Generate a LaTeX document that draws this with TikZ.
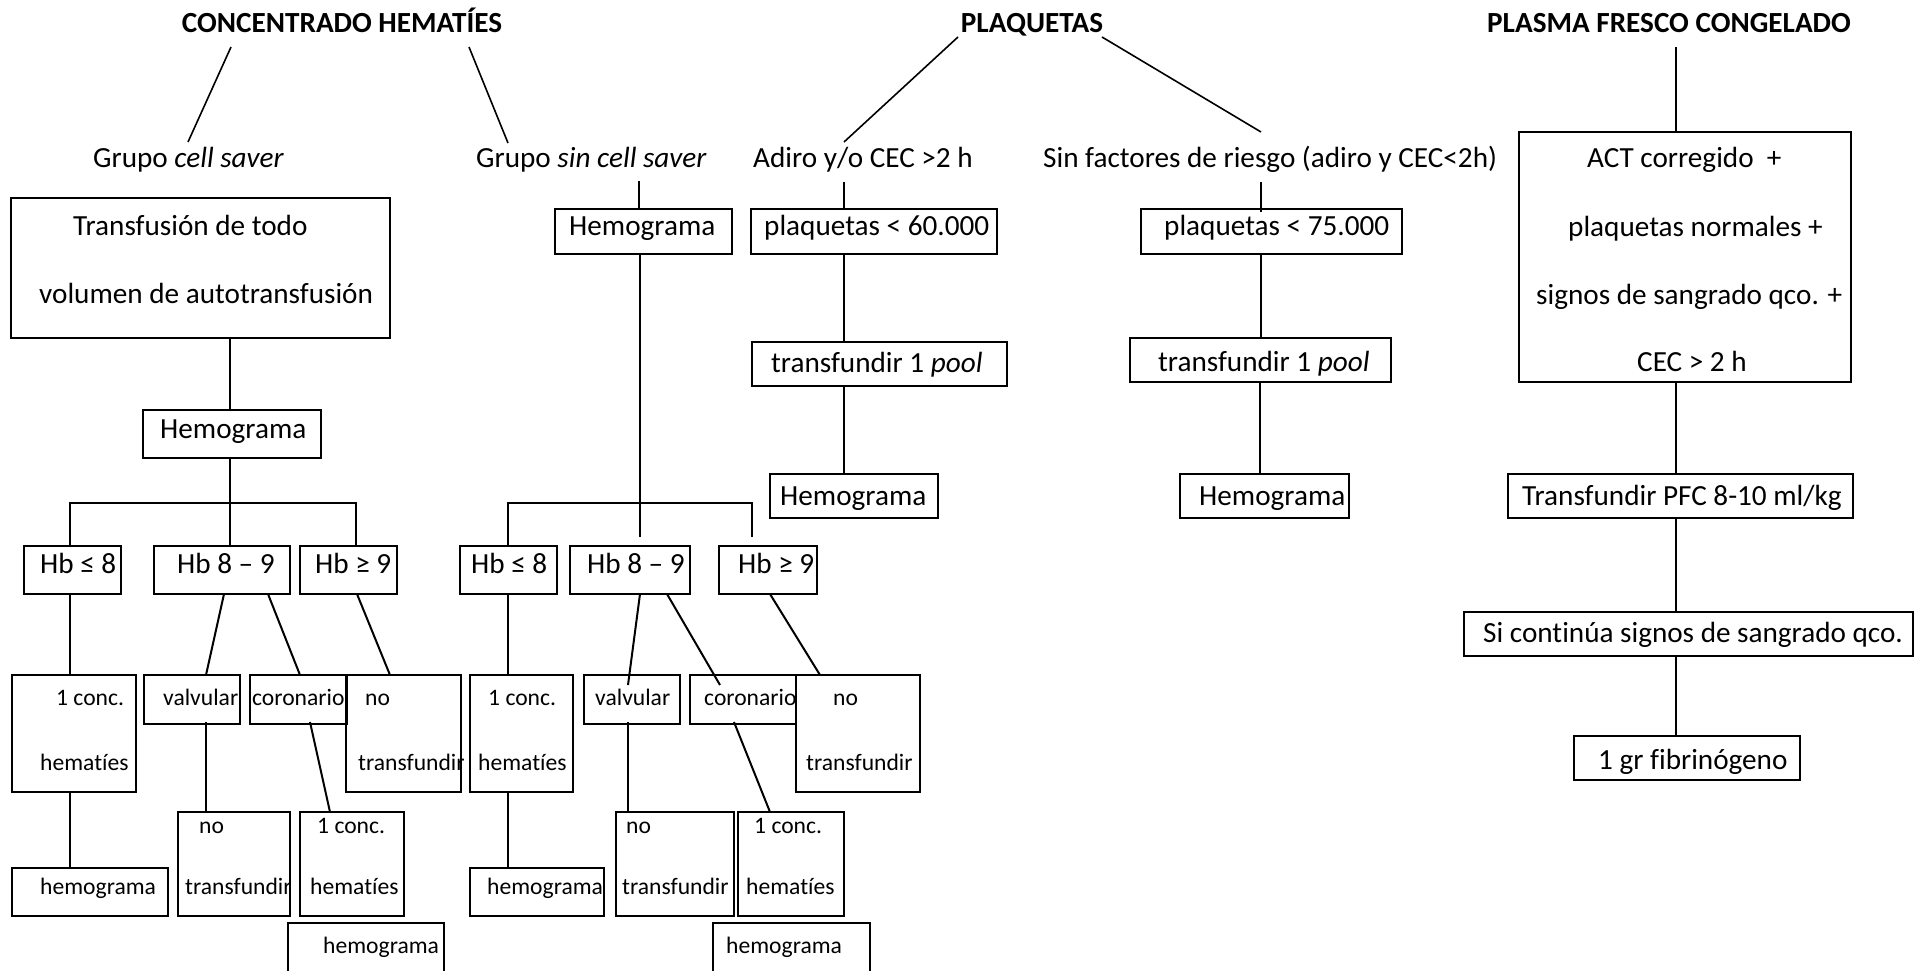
\documentclass[tikz,border=0pt]{standalone}
\usepackage{fontspec}
\setmainfont{Carlito}[Ligatures=CommonOff]
\begin{document}
\begin{tikzpicture}[x=1pt,y=-1pt,
  box/.style={draw,line width=2pt,inner sep=0pt,outer sep=0pt,anchor=north west,rectangle},
  txt/.style={inner sep=0pt,anchor=base west,font=\fontsize{29.2}{35}\selectfont},
  sm/.style={inner sep=0pt,anchor=base west,font=\fontsize{23.6}{28}\selectfont},
  head/.style={inner sep=0pt,anchor=base,font=\fontsize{29.2}{35}\selectfont\bfseries},
  ln/.style={line width=2pt},
  dl/.style={line width=1.6pt}]
\useasboundingbox (0,0) rectangle (1923,970);
% ---------- headings and group labels
\node[head] (hc) at (342,32) {CONCENTRADO HEMATÍES};
\node[head] (hp) at (1032,32) {PLAQUETAS};
\node[head] (hf) at (1669,32) {PLASMA FRESCO CONGELADO};
\node[txt] (gcs) at (93,167) {Grupo \textit{cell saver}};
\node[txt] (gsin) at (476,167) {Grupo \textit{sin cell saver}};
\node[txt] (adiro) at (753,167) {Adiro y/o CEC >2 h};
\node[txt] (sinf) at (1043,167) {Sin factores de riesgo (adiro y CEC<2h)};
% ---------- boxes: cell saver
\node[box,minimum width=379,minimum height=140] (tbox) at (11,198) {};
\node[box,minimum width=178,minimum height=48] (hemL) at (143,410) {};
\node[box,minimum width=97,minimum height=48] (hbL1) at (24,546) {};
\node[box,minimum width=136,minimum height=48] (hbL2) at (154,546) {};
\node[box,minimum width=97,minimum height=48] (hbL3) at (300,546) {};
\node[box,minimum width=124,minimum height=117] (concL1) at (12,675) {};
\node[box,minimum width=96,minimum height=49] (valL) at (144,675) {};
\node[box,minimum width=97,minimum height=49] (corL) at (250,675) {};
\node[box,minimum width=115,minimum height=117] (notL1) at (346,675) {};
\node[box,minimum width=156,minimum height=48] (hemL2) at (12,868) {};
\node[box,minimum width=112,minimum height=104] (notL2) at (178,812) {};
\node[box,minimum width=104,minimum height=104] (concL2) at (300,812) {};
\node[box,minimum width=156,minimum height=60] (hemL3) at (288,923) {};
% ---------- boxes: sin cell saver
\node[box,minimum width=177,minimum height=45] (hemS) at (555,209) {};
\node[box,minimum width=97,minimum height=48] (hbS1) at (460,546) {};
\node[box,minimum width=120,minimum height=48] (hbS2) at (570,546) {};
\node[box,minimum width=98,minimum height=48] (hbS3) at (719,546) {};
\node[box,minimum width=103,minimum height=117] (concS1) at (470,675) {};
\node[box,minimum width=134,minimum height=48] (hemS2) at (470,868) {};
\node[box,minimum width=96,minimum height=49] (valS) at (584,675) {};
\node[box,minimum width=106,minimum height=49] (corS) at (690,675) {};
\node[box,minimum width=124,minimum height=117] (notS1) at (796,675) {};
\node[box,minimum width=118,minimum height=104] (notS2) at (616,812) {};
\node[box,minimum width=106,minimum height=104] (concS2) at (738,812) {};
\node[box,minimum width=157,minimum height=60] (hemS3) at (713,923) {};
% ---------- boxes: plaquetas
\node[box,minimum width=246,minimum height=45] (p60) at (751,209) {};
\node[box,minimum width=255,minimum height=44] (tp1) at (752,342) {};
\node[box,minimum width=168,minimum height=44] (hp1) at (770,474) {};
\node[box,minimum width=261,minimum height=45] (p75) at (1141,209) {};
\node[box,minimum width=261,minimum height=44] (tp2) at (1130,338) {};
\node[box,minimum width=169,minimum height=44] (hp2) at (1180,474) {};
% ---------- boxes: plasma
\node[box,minimum width=332,minimum height=250] (act) at (1519,132) {};
\node[box,minimum width=345,minimum height=44] (pfc) at (1508,474) {};
\node[box,minimum width=449,minimum height=44] (si) at (1464,612) {};
\node[box,minimum width=226,minimum height=44] (fib) at (1574,736) {};
% ---------- texts in boxes (main size)
\node[txt] (tbox1) at (73,235) {Transfusión de todo};
\node[txt] (tbox2) at (39,303) {volumen de autotransfusión};
\node[txt] (hemLt) at (160,438) {Hemograma};
\node[txt] (hbL1t) at (40,573) {Hb ≤ 8};
\node[txt] (hbL2t) at (177,573) {Hb 8 – 9};
\node[txt] (hbL3t) at (315,573) {Hb ≥ 9};
\node[txt] (hemSt) at (569,235) {Hemograma};
\node[txt] (hbS1t) at (471,573) {Hb ≤ 8};
\node[txt] (hbS2t) at (587,573) {Hb 8 – 9};
\node[txt] (hbS3t) at (738,573) {Hb ≥ 9};
\node[txt] (p60t) at (764,235) {plaquetas < 60.000};
\node[txt] (tp1t) at (771,372) {transfundir 1 \textit{pool}};
\node[txt] (hp1t) at (780,505) {Hemograma};
\node[txt] (p75t) at (1164,235) {plaquetas < 75.000};
\node[txt] (tp2t) at (1158,371) {transfundir 1 \textit{pool}};
\node[txt] (hp2t) at (1199,505) {Hemograma};
\node[txt] (act1) at (1587,167) {ACT corregido \ +};
\node[txt] (act2) at (1568,236) {plaquetas normales +};
\node[txt] (act3) at (1536,304) {signos de sangrado qco. +};
\node[txt] (act4) at (1637,371) {CEC > 2 h};
\node[txt] (pfct) at (1522,505) {Transfundir PFC 8-10 ml/kg};
\node[txt] (sit) at (1483,642) {Si continúa signos de sangrado qco.};
\node[txt] (fibt) at (1598,769) {1 gr fibrinógeno};
% ---------- texts in small boxes
\node[sm] (concL1a) at (56,705) {1 conc.};
\node[sm] (concL1b) at (40,770) {hematíes};
\node[sm] (valLt) at (163,705) {valvular};
\node[sm] (corLt) at (252,705) {coronario};
\node[sm] (notL1a) at (365,705) {no};
\node[sm] (notL1b) at (358,770) {transfundir};
\node[sm] (notL2a) at (199,833) {no};
\node[sm] (notL2b) at (185,894) {transfundir};
\node[sm] (concL2a) at (317,833) {1 conc.};
\node[sm] (concL2b) at (310,894) {hematíes};
\node[sm] (hemL2t) at (40,894) {hemograma};
\node[sm] (hemL3t) at (323,953) {hemograma};
\node[sm] (concS1a) at (488,705) {1 conc.};
\node[sm] (concS1b) at (478,770) {hematíes};
\node[sm] (hemS2t) at (487,894) {hemograma};
\node[sm] (valSt) at (595,705) {valvular};
\node[sm] (corSt) at (704,705) {coronario};
\node[sm] (notS1a) at (833,705) {no};
\node[sm] (notS1b) at (806,770) {transfundir};
\node[sm] (notS2a) at (626,833) {no};
\node[sm] (notS2b) at (622,894) {transfundir};
\node[sm] (concS2a) at (754,833) {1 conc.};
\node[sm] (concS2b) at (746,894) {hematíes};
\node[sm] (hemS3t) at (726,953) {hemograma};
% ---------- junction coordinates
\coordinate (jL) at (230,503);
\coordinate (jS) at (640,503);
% ---------- connectors: headings
\draw[dl] ([shift={(-111,15)}]hc.base) -- ([shift={(95,-25)}]gcs.base west);
\draw[dl] ([shift={(127,15)}]hc.base) -- ([shift={(32,-24)}]gsin.base west);
\draw[dl] ([shift={(-74,5)}]hp.base) -- ([shift={(91,-25)}]adiro.base west);
\draw[dl] ([shift={(70,5)}]hp.base) -- ([shift={(218,-35)}]sinf.base west);
\draw[dl] ([shift={(7,15)}]hf.base) -- ([shift={(-9,0)}]act.north);
\draw[dl] ([shift={(163,14)}]gsin.base west) -- ([shift={(-4.5,0)}]hemS.north);
\draw[dl] ([shift={(91,15)}]adiro.base west) -- ([shift={(-30,0)}]p60.north);
\draw[dl] ([shift={(218,15)}]sinf.base west) -- ([shift={(-10.5,3)}]p75.north);
% ---------- connectors: cell saver
\draw[ln] ([shift={(29.5,0)}]tbox.south) -- ([shift={(-2,0)}]hemL.north);
\draw[ln] ([shift={(-2,0)}]hemL.south) -- ([shift={(8,0)}]hbL2.north);
\draw[ln] ([shift={(-2.5,0)}]hbL1.north) |- (jL) -| ([shift={(7.5,0)}]hbL3.north);
\draw[ln] ([shift={(-2.5,0)}]hbL1.south) -- ([shift={(-4,0)}]concL1.north);
\draw[ln] ([shift={(-4,0)}]concL1.south) -- ([shift={(-20,0)}]hemL2.north);
\draw[ln] ([shift={(2,0)}]hbL2.south) -- ([shift={(14,0)}]valL.north);
\draw[ln] ([shift={(46,0)}]hbL2.south) -- ([shift={(1.5,0)}]corL.north);
\draw[ln] ([shift={(8.5,0)}]hbL3.south) -- ([shift={(-13.5,0)}]notL1.north);
\draw[ln] ([shift={(14,-2)}]valL.south) -- ([shift={(-28,0)}]notL2.north);
\draw[ln] ([shift={(11.5,-2)}]corL.south) -- ([shift={(-22,0)}]concL2.north);
% ---------- connectors: sin cell saver
\draw[ln] ([shift={(-3.5,0)}]hemS.south) -- ([shift={(10,-9)}]hbS2.north);
\draw[ln] ([shift={(-0.5,0)}]hbS1.north) |- (jS) -| ([shift={(-16,-9)}]hbS3.north);
\draw[ln] ([shift={(-0.5,0)}]hbS1.south) -- ([shift={(-13.5,0)}]concS1.north);
\draw[ln] ([shift={(-13.5,0)}]concS1.south) -- ([shift={(-29,0)}]hemS2.north);
\draw[ln] ([shift={(10,0)}]hbS2.south) -- ([shift={(-4,10)}]valS.north);
\draw[ln] ([shift={(37,0)}]hbS2.south) -- ([shift={(-23,10)}]corS.north);
\draw[ln] ([shift={(2,0)}]hbS3.south) -- ([shift={(-38,0)}]notS1.north);
\draw[ln] ([shift={(-4,-2)}]valS.south) -- ([shift={(-47,0)}]notS2.north);
\draw[ln] ([shift={(-9,-2)}]corS.south) -- ([shift={(-21,0)}]concS2.north);
% ---------- connectors: plaquetas
\draw[ln] ([shift={(-30,0)}]p60.south) -- ([shift={(-35.5,0)}]tp1.north);
\draw[ln] ([shift={(-35.5,0)}]tp1.south) -- ([shift={(-10,0)}]hp1.north);
\draw[ln] ([shift={(-10.5,0)}]p75.south) -- ([shift={(0.5,0)}]tp2.north);
\draw[ln] ([shift={(-0.5,0)}]tp2.south) -- ([shift={(-4.5,0)}]hp2.north);
% ---------- connectors: plasma
\draw[ln] ([shift={(-9,0)}]act.south) -- ([shift={(-4.5,0)}]pfc.north);
\draw[ln] ([shift={(-4.5,0)}]pfc.south) -- ([shift={(-12.5,0)}]si.north);
\draw[ln] ([shift={(-12.5,0)}]si.south) -- ([shift={(-11,0)}]fib.north);
\end{tikzpicture}
\end{document}
